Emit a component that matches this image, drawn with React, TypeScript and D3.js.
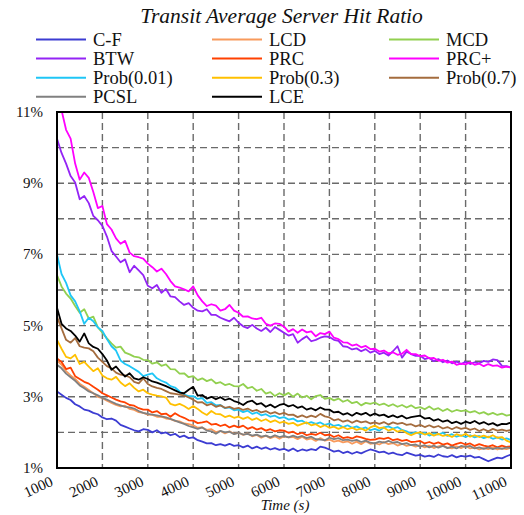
import React from "react";
import * as d3 from "d3";

// Sampling instants (s), one every 100 s
const TIMES = d3.range(1000, 11001, 100);

const SERIES_NAMES = [
  "C-F", "LCD", "MCD", "BTW", "PRC", "PRC+",
  "Prob(0.01)", "Prob(0.3)", "Prob(0.7)", "PCSL", "LCE",
];

const SERIES_COLORS = [
  "#3c3cd2", "#f89a5c", "#92d050", "#9424f5", "#ff4000", "#ff00ff",
  "#1fc6f6", "#ffc000", "#a46c3e", "#808080", "#000000",
];

// Hit ratio (%) per strategy
const CF = [
  3.15, 3.06, 2.97, 2.91, 2.79, 2.73, 2.64, 2.61, 2.55, 2.51,
  2.42, 2.37, 2.39, 2.33, 2.21, 2.16, 2.11, 2.06, 2.03, 2.09,
  2.07, 2.0, 2.06, 1.97, 2.0, 1.92, 1.96, 1.87, 1.91, 1.84,
  1.86, 1.78, 1.74, 1.69, 1.7, 1.64, 1.67, 1.63, 1.68, 1.62,
  1.64, 1.58, 1.63, 1.55, 1.6, 1.54, 1.58, 1.52, 1.56, 1.51,
  1.54, 1.48, 1.55, 1.47, 1.52, 1.49, 1.53, 1.5, 1.6, 1.57,
  1.52, 1.46, 1.49, 1.42, 1.46, 1.4, 1.45, 1.41, 1.47, 1.52,
  1.49, 1.44, 1.46, 1.4, 1.43, 1.38, 1.36, 1.43, 1.39, 1.35,
  1.37, 1.32, 1.35, 1.31, 1.38, 1.33, 1.31, 1.36, 1.3, 1.34,
  1.32, 1.35, 1.29, 1.31, 1.25, 1.19, 1.24, 1.29, 1.27, 1.33, 1.38,
];

const LCD = [
  4.02, 3.9, 3.72, 3.6, 3.5, 3.37, 3.28, 3.19, 3.1, 3.0,
  2.96, 2.89, 2.83, 2.77, 2.73, 2.75, 2.66, 2.63, 2.57, 2.55,
  2.5, 2.49, 2.44, 2.44, 2.39, 2.37, 2.32, 2.31, 2.25, 2.23,
  2.2, 2.13, 2.14, 2.07, 2.09, 2.01, 2.04, 1.97, 2.03, 1.96,
  1.99, 1.93, 1.97, 1.89, 1.93, 1.85, 1.91, 1.84, 1.89, 1.82,
  1.89, 1.86, 1.87, 1.81, 1.88, 1.8, 1.83, 1.76, 1.84, 1.77,
  1.8, 1.74, 1.77, 1.72, 1.75, 1.68, 1.74, 1.67, 1.75, 1.68,
  1.7, 1.66, 1.73, 1.67, 1.7, 1.63, 1.68, 1.62, 1.65, 1.6,
  1.64, 1.58, 1.63, 1.56, 1.61, 1.64, 1.57, 1.55, 1.61, 1.56,
  1.62, 1.55, 1.58, 1.52, 1.56, 1.53, 1.58, 1.52, 1.55, 1.53, 1.57,
];

const MCD = [
  6.42, 6.1, 5.9, 5.76, 5.55, 5.36, 5.46, 5.2, 5.25, 4.95,
  4.8, 4.64, 4.5, 4.38, 4.41, 4.24, 4.19, 4.13, 4.11, 4.04,
  4.03, 3.93, 3.97, 3.87, 3.91, 3.78, 3.77, 3.65, 3.66, 3.55,
  3.58, 3.47, 3.52, 3.44, 3.49, 3.38, 3.41, 3.33, 3.36, 3.3,
  3.29, 3.36, 3.24, 3.28, 3.17, 3.22, 3.09, 3.13, 3.02, 3.1,
  3.04, 3.11, 3.0, 3.09, 2.98, 3.03, 2.93, 3.02, 3.05, 2.94,
  2.97, 2.9, 2.95, 2.86, 2.91, 2.82, 2.86, 2.76, 2.83, 2.8,
  2.84, 2.77, 2.81, 2.74, 2.79, 2.72, 2.77, 2.7, 2.76, 2.68,
  2.71, 2.65, 2.73, 2.64, 2.68, 2.6, 2.66, 2.58, 2.63, 2.6,
  2.62, 2.56, 2.6, 2.53, 2.57, 2.5, 2.55, 2.49, 2.53, 2.47, 2.5,
];

const BTW = [
  10.25, 9.85, 9.55, 9.2, 9.02, 8.55, 8.64, 8.44, 8.08, 7.96,
  7.8, 7.5, 7.1, 6.94, 6.78, 6.86, 6.5, 6.68, 6.55, 6.42,
  6.12, 6.05, 6.14, 5.92, 6.03, 5.82, 5.8, 5.68, 5.58, 5.63,
  5.5, 5.42, 5.4, 5.46, 5.3, 5.3, 5.22, 5.17, 5.12, 5.22,
  5.08, 4.98, 4.93, 5.02, 4.92, 4.85, 4.94, 4.82, 4.96, 4.88,
  4.8, 4.72, 4.76, 4.52, 4.62, 4.7, 4.56, 4.6, 4.66, 4.7,
  4.68, 4.6, 4.57, 4.42, 4.4, 4.33, 4.36, 4.28, 4.34, 4.24,
  4.29, 4.2, 4.24, 4.16, 4.28, 4.42, 4.1, 4.27, 4.2, 4.15,
  4.15, 4.06, 4.09, 4.0, 4.06, 3.97, 4.02, 3.94, 3.99, 3.92,
  3.98, 3.92, 3.97, 3.94, 4.01, 3.98, 4.05, 4.03, 3.87, 3.86, 3.82,
];

const PRC = [
  4.08, 3.98, 3.78, 3.82, 3.58, 3.5, 3.42, 3.37, 3.28, 3.2,
  3.1, 3.04, 2.98, 2.92, 2.87, 2.84, 2.77, 2.75, 2.68, 2.64,
  2.64, 2.56, 2.6, 2.51, 2.53, 2.44, 2.54, 2.46, 2.41, 2.34,
  2.33, 2.26, 2.28, 2.31, 2.22, 2.24, 2.18, 2.22, 2.14, 2.19,
  2.14, 2.19, 2.1, 2.15, 2.08, 2.12, 2.05, 2.09, 2.03, 2.06,
  2.05, 1.99, 2.02, 1.95, 1.99, 1.92, 1.96, 1.93, 1.99, 1.92,
  1.94, 1.87, 1.92, 1.84, 1.87, 1.83, 1.89, 1.86, 1.82, 1.79,
  1.8, 1.84, 1.82, 1.85, 1.78, 1.81, 1.76, 1.79, 1.73, 1.74,
  1.76, 1.69, 1.73, 1.68, 1.72, 1.66, 1.69, 1.63, 1.68, 1.71,
  1.66, 1.69, 1.62, 1.67, 1.63, 1.6, 1.64, 1.58, 1.63, 1.59, 1.61,
];

const PRC_PLUS = [
  11.5, 11.05, 10.5, 10.25, 9.55, 9.1, 9.3, 9.15, 8.75, 8.3,
  8.36, 7.85, 7.7, 7.45, 7.3, 7.38, 7.05, 6.95, 6.92, 6.88,
  6.74, 6.64, 6.52, 6.6, 6.45, 6.25, 6.1, 6.07, 6.02, 5.96,
  6.1, 5.85, 5.68, 5.55, 5.6, 5.56, 5.42, 5.46, 5.58, 5.42,
  5.36, 5.25, 5.26, 5.2, 5.18, 5.22, 5.05, 5.0, 5.06, 5.05,
  4.97, 4.83, 4.9, 4.8, 4.89, 4.81, 4.84, 4.7, 4.79, 4.76,
  4.83, 4.66, 4.62, 4.53, 4.52, 4.44, 4.47, 4.39, 4.43, 4.34,
  4.35, 4.27, 4.3, 4.22, 4.25, 4.18, 4.21, 4.32, 4.2, 4.2,
  4.14, 4.16, 4.08, 4.09, 4.01, 4.04, 3.96, 3.99, 3.9, 3.93,
  3.91, 3.97, 3.9, 3.93, 3.86, 3.92, 3.87, 3.88, 3.82, 3.85, 3.82,
];

const PROB_001 = [
  7.0, 6.45, 6.2, 5.85, 5.68, 5.4, 5.05, 5.22, 5.12, 4.95,
  4.85, 4.62, 4.42, 4.3, 4.02, 3.92, 3.86, 3.78, 3.7, 3.58,
  3.62, 3.66, 3.52, 3.45, 3.4, 3.3, 3.26, 3.15, 3.06, 3.02,
  3.02, 2.94, 2.96, 2.83, 2.85, 2.76, 2.77, 2.68, 2.7, 2.62,
  2.64, 2.57, 2.61, 2.52, 2.56, 2.48, 2.51, 2.44, 2.47, 2.4,
  2.43, 2.36, 2.39, 2.31, 2.33, 2.25, 2.29, 2.24, 2.28, 2.21,
  2.25, 2.18, 2.21, 2.15, 2.2, 2.13, 2.17, 2.1, 2.14, 2.06,
  2.1, 2.05, 2.14, 2.17, 2.11, 2.15, 2.07, 2.03, 1.96, 2.01,
  1.95, 1.99, 1.91, 1.97, 1.94, 1.99, 1.9, 1.95, 1.88, 1.92,
  1.87, 1.92, 1.86, 1.9, 1.84, 1.88, 1.82, 1.86, 1.8, 1.83, 1.79,
];

const PROB_03 = [
  4.6, 4.35, 4.12, 4.08, 4.18, 3.92, 3.98, 3.85, 3.72, 3.8,
  3.6, 3.52, 3.48, 3.56, 3.4, 3.3, 3.38, 3.25, 3.15, 3.2,
  3.1, 3.06, 3.03, 3.01, 2.98, 2.8, 2.76, 2.8, 2.74, 2.66,
  2.74, 2.66, 2.56, 2.49, 2.6, 2.52, 2.51, 2.43, 2.47, 2.41,
  2.44, 2.38, 2.43, 2.35, 2.4, 2.32, 2.37, 2.29, 2.34, 2.27,
  2.3, 2.24, 2.27, 2.19, 2.24, 2.28, 2.2, 2.23, 2.15, 2.2,
  2.13, 2.16, 2.1, 2.15, 2.09, 2.13, 2.07, 2.11, 2.05, 2.14,
  2.19, 2.12, 2.14, 2.05, 2.1, 2.02, 2.06, 1.98, 1.92, 1.98,
  2.0, 1.94, 1.98, 1.91, 1.96, 1.9, 1.93, 1.87, 1.95, 1.9,
  1.96, 1.88, 1.92, 1.87, 1.91, 1.86, 1.92, 1.85, 1.87, 1.77, 1.72,
];

const PROB_07 = [
  5.25, 4.92, 4.6, 4.52, 4.65, 4.42, 4.38, 4.36, 4.28, 4.1,
  3.98, 3.86, 3.8, 3.68, 3.62, 3.6, 3.55, 3.42, 3.38, 3.52,
  3.36, 3.29, 3.25, 3.22, 3.16, 3.1, 3.08, 3.06, 3.04, 2.98,
  2.92, 2.84, 2.85, 2.76, 2.8, 2.72, 2.76, 2.69, 2.72, 2.66,
  2.69, 2.63, 2.67, 2.6, 2.63, 2.56, 2.6, 2.53, 2.57, 2.51,
  2.55, 2.49, 2.5, 2.43, 2.48, 2.42, 2.47, 2.43, 2.52, 2.45,
  2.42, 2.34, 2.37, 2.3, 2.34, 2.27, 2.33, 2.28, 2.31, 2.25,
  2.28, 2.24, 2.29, 2.22, 2.28, 2.24, 2.27, 2.21, 2.23, 2.17,
  2.21, 2.15, 2.2, 2.14, 2.18, 2.11, 2.15, 2.09, 2.15, 2.1,
  2.13, 2.07, 2.11, 2.04, 2.09, 2.03, 2.1, 2.05, 2.08, 2.04, 2.07,
];

const PCSL = [
  3.9, 3.8, 3.65, 3.55, 3.45, 3.32, 3.24, 3.15, 3.1, 3.04,
  2.97, 2.92, 2.86, 2.8, 2.76, 2.72, 2.7, 2.67, 2.6, 2.55,
  2.52, 2.5, 2.48, 2.45, 2.42, 2.38, 2.33, 2.28, 2.24, 2.18,
  2.14, 2.1, 2.14, 2.05, 2.03, 1.96, 2.04, 2.0, 2.02, 1.95,
  1.99, 1.94, 1.96, 1.91, 1.94, 1.88, 1.91, 1.86, 1.92, 1.87,
  1.9, 1.86, 1.91, 1.86, 1.9, 1.84, 1.88, 1.81, 1.8, 1.78,
  1.85, 1.81, 1.84, 1.78, 1.8, 1.76, 1.79, 1.73, 1.77, 1.71,
  1.69, 1.74, 1.71, 1.76, 1.71, 1.73, 1.67, 1.7, 1.64, 1.66,
  1.6, 1.64, 1.58, 1.63, 1.57, 1.62, 1.56, 1.6, 1.55, 1.62,
  1.59, 1.62, 1.55, 1.58, 1.54, 1.58, 1.53, 1.57, 1.54, 1.58, 1.56,
];

const LCE = [
  5.5, 5.05, 4.92, 4.85, 4.72, 4.55, 4.78, 4.5, 4.4, 4.35,
  4.2, 4.02, 3.76, 3.85, 3.7, 3.57, 3.66, 3.52, 3.48, 3.55,
  3.5, 3.43, 3.4, 3.35, 3.3, 3.24, 3.18, 3.12, 3.1, 3.2,
  3.28, 3.03, 3.05, 2.95, 3.0, 2.93, 2.99, 2.91, 2.95, 2.88,
  2.84, 2.77, 2.86, 2.89, 2.79, 2.82, 2.72, 2.78, 2.7, 2.77,
  2.8, 2.73, 2.77, 2.69, 2.73, 2.64, 2.68, 2.62, 2.7, 2.64,
  2.64, 2.56, 2.58, 2.5, 2.54, 2.47, 2.55, 2.5, 2.55, 2.47,
  2.53, 2.47, 2.5, 2.43, 2.48, 2.42, 2.47, 2.39, 2.43, 2.45,
  2.47, 2.39, 2.41, 2.33, 2.37, 2.3, 2.34, 2.26, 2.3, 2.24,
  2.3, 2.26, 2.32, 2.24, 2.29, 2.22, 2.26, 2.19, 2.24, 2.23, 2.28,
];

const SERIES_VALUES = [
  CF, LCD, MCD, BTW, PRC, PRC_PLUS, PROB_001, PROB_03, PROB_07, PCSL, LCE,
];

const X_TICKS = d3.range(1000, 11001, 1000);
const Y_GRID = d3.range(1, 12, 1);
const Y_LABELS = [1, 3, 5, 7, 9, 11];

const WIDTH = 524;
const HEIGHT = 515;
const PLOT = { left: 57, right: 511, top: 112, bottom: 468 };
const FONT = "'Liberation Serif', 'Times New Roman', serif";

export default function App() {
  const x = d3.scaleLinear().domain([1000, 11000]).range([PLOT.left, PLOT.right]);
  const y = d3.scaleLinear().domain([1, 11]).range([PLOT.bottom, PLOT.top]);

  const line = d3
    .line<[number, number]>()
    .x((d) => x(d[0]))
    .y((d) => y(d[1]));

  const legendCols = [36, 212, 389];
  const legendRowY = (r: number) => 39.5 + r * 19.1;

  return (
    <svg
      width={WIDTH}
      height={HEIGHT}
      style={{ position: "absolute", left: 0, top: 0, background: "#fff" }}
      fontFamily={FONT}
    >
      <defs>
        <clipPath id="plot-clip">
          <rect
            x={PLOT.left}
            y={PLOT.top}
            width={PLOT.right - PLOT.left}
            height={PLOT.bottom - PLOT.top}
          />
        </clipPath>
      </defs>

      <text x={281.5} y={23} textAnchor="middle" fontSize={21.5} fontStyle="italic" fill="#111">
        Transit Average Server Hit Ratio
      </text>

      {/* legend */}
      {SERIES_NAMES.map((name, i) => {
        const col = i % 3;
        const row = Math.floor(i / 3);
        const lx = legendCols[col];
        const ly = legendRowY(row);
        return (
          <g key={name}>
            <line x1={lx} x2={lx + 50} y1={ly} y2={ly} stroke={SERIES_COLORS[i]} strokeWidth={2} />
            <text x={lx + 57} y={ly + 6.3} fontSize={18.5} fill="#111">
              {name}
            </text>
          </g>
        );
      })}

      {/* grid */}
      <g stroke="#6a6a6a" strokeWidth={1.4} strokeDasharray="7,4">
        {Y_GRID.filter((v) => v > 1 && v < 11).map((v) => (
          <line key={`gy${v}`} x1={PLOT.left} x2={PLOT.right} y1={y(v)} y2={y(v)} />
        ))}
        {X_TICKS.filter((t) => t > 1000 && t < 11000).map((t) => (
          <line key={`gx${t}`} x1={x(t)} x2={x(t)} y1={PLOT.top} y2={PLOT.bottom} />
        ))}
      </g>

      {/* series */}
      <g clipPath="url(#plot-clip)" fill="none" strokeWidth={1.8} strokeLinejoin="round">
        {SERIES_VALUES.map((vals, i) => {
          const pts: [number, number][] = vals.map((v, k) => [TIMES[k], v]);
          return <path key={SERIES_NAMES[i]} d={line(pts) || ""} stroke={SERIES_COLORS[i]} />;
        })}
      </g>

      {/* frame */}
      <rect
        x={PLOT.left}
        y={PLOT.top}
        width={PLOT.right - PLOT.left}
        height={PLOT.bottom - PLOT.top}
        fill="none"
        stroke="#000"
        strokeWidth={2}
      />

      {/* y tick labels */}
      {Y_LABELS.map((v) => (
        <text key={`yl${v}`} x={43} y={y(v) + 5} textAnchor="end" fontSize={15} fill="#111">
          {`${v}%`}
        </text>
      ))}

      {/* x tick labels */}
      {X_TICKS.map((t) => (
        <text
          key={`xl${t}`}
          transform={`translate(${x(t) - 3},${485}) rotate(-25)`}
          textAnchor="end"
          fontSize={15}
          fill="#111"
        >
          {t}
        </text>
      ))}

      <text x={285} y={510} textAnchor="middle" fontSize={15} fontStyle="italic" fill="#111">
        Time (s)
      </text>
    </svg>
  );
}
